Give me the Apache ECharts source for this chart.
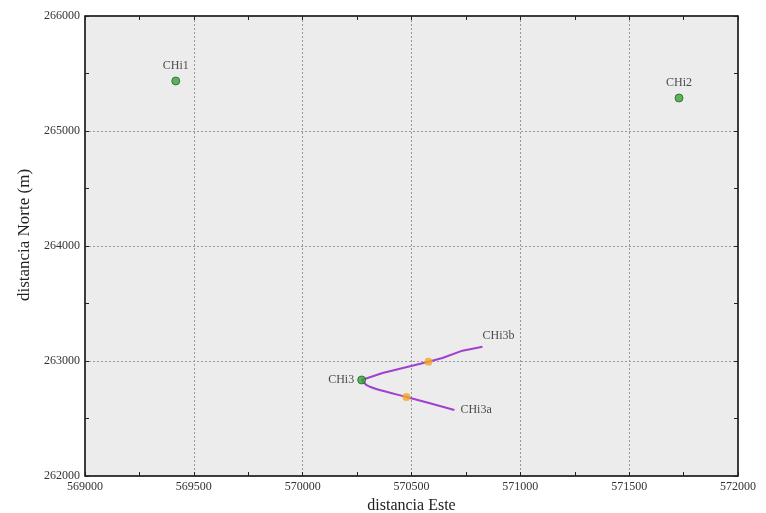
<!DOCTYPE html>
<html><head><meta charset="utf-8">
<script src="https://cdn.jsdelivr.net/npm/echarts@6/dist/echarts.min.js"></script>
<style>html,body{margin:0;padding:0;background:#fff}#c{width:766px;height:513px}</style>
</head><body><div id="c"></div>
<script>
const wellNames = ['CHi1', 'CHi2', 'CHi3'];
const wellX = [569417, 571729, 570271];
const wellY = [265435, 265287, 262835];
const trackB_X = [570271, 570367, 570578, 570642, 570734, 570826];
const trackB_Y = [262835, 262896, 262994, 263026, 263090, 263124];
const trackA_X = [570271, 570294, 570353, 570477, 570697];
const trackA_Y = [262835, 262791, 262748, 262687, 262574];
const branchNames = ['CHi3b', 'CHi3a'];
const branchLabelX = [570826, 570697];
const branchLabelY = [263124, 262574];
const markX = [570578, 570477];
const markY = [262994, 262687];
const xTicks = [569000, 569500, 570000, 570500, 571000, 571500, 572000];
const yTicks = [262000, 263000, 264000, 265000, 266000];

const font = 'Liberation Serif';
const zip = (a, b) => a.map((v, i) => [v, b[i]]);
const axBase = {
  type: 'value', axisLine: {show: true, onZero: false, lineStyle: {color: '#222', width: 1.5}},
  axisTick: {show: true, inside: true, length: 4, lineStyle: {color: '#222'}},
  minorTick: {show: true, splitNumber: 2, length: 4, lineStyle: {color: '#222'}},
};
const chart = echarts.init(document.getElementById('c'));
chart.setOption({
  animation: false,
  grid: {left: 85, right: 28, top: 16, bottom: 37, outerBoundsMode: 'none', containLabel: false,
    show: true, backgroundColor: '#ececec', borderColor: '#222', borderWidth: 1},
  xAxis: [
    Object.assign({}, axBase, {min: xTicks[0], max: xTicks[xTicks.length-1], interval: 500, position: 'bottom',
      name: 'distancia Este', nameLocation: 'middle', nameGap: 21,
      nameTextStyle: {fontFamily: font, fontSize: 16, color: '#222'},
      axisLabel: {fontFamily: font, fontSize: 12, color: '#333', margin: 5, formatter: v => String(v)},
      splitLine: {show: true, lineStyle: {color: '#999', type: [2, 2], width: 1}}}),
    Object.assign({}, axBase, {min: xTicks[0], max: xTicks[xTicks.length-1], interval: 500, position: 'top',
      axisLabel: {show: false}, splitLine: {show: false}})
  ],
  yAxis: [
    Object.assign({}, axBase, {min: yTicks[0], max: yTicks[yTicks.length-1], interval: 1000, position: 'left',
      name: 'distancia Norte (m)', nameLocation: 'middle', nameGap: 52,
      nameTextStyle: {fontFamily: font, fontSize: 17, color: '#222', padding: [0, 0, 0, 22]},
      axisLabel: {fontFamily: font, fontSize: 12, color: '#333', margin: 5, formatter: v => String(v)},
      splitLine: {show: true, lineStyle: {color: '#999', type: [2, 2], width: 1}}}),
    Object.assign({}, axBase, {min: yTicks[0], max: yTicks[yTicks.length-1], interval: 1000, position: 'right',
      axisLabel: {show: false}, splitLine: {show: false}})
  ],
  series: [
    {type: 'line', data: zip(trackB_X, trackB_Y), smooth: false, symbol: 'none',
      lineStyle: {color: '#a040d0', width: 2}, z: 3},
    {type: 'line', data: zip(trackA_X, trackA_Y), smooth: 0.15, symbol: 'none',
      lineStyle: {color: '#a040d0', width: 2}, z: 3},
    {type: 'scatter', data: zip(markX, markY), symbol: 'circle', symbolSize: 8,
      itemStyle: {color: '#f5a623'}, z: 4},
    {type: 'scatter', symbolSize: 8, z: 5,
      data: wellNames.map((n, i) => ({value: [wellX[i], wellY[i]], name: n,
        label: {position: i === 2 ? 'left' : 'top', distance: i === 2 ? 3 : 5}})),
      itemStyle: {color: '#3aa33a', borderColor: '#1c6b1c', borderWidth: 1},
      label: {show: true, formatter: p => p.name, fontFamily: font, fontSize: 12, color: '#222'}},
    {type: 'scatter', symbolSize: 2, z: 6, itemStyle: {color: 'rgba(0,0,0,0)'},
      data: branchNames.map((n, i) => ({value: [branchLabelX[i], branchLabelY[i]], name: n,
        label: i === 0 ? {position: 'top', distance: 4, offset: [16, 0]} : {position: 'right', distance: 5}})),
      label: {show: true, formatter: p => p.name, fontFamily: font, fontSize: 12, color: '#222'}}
  ]
});
</script></body></html>
